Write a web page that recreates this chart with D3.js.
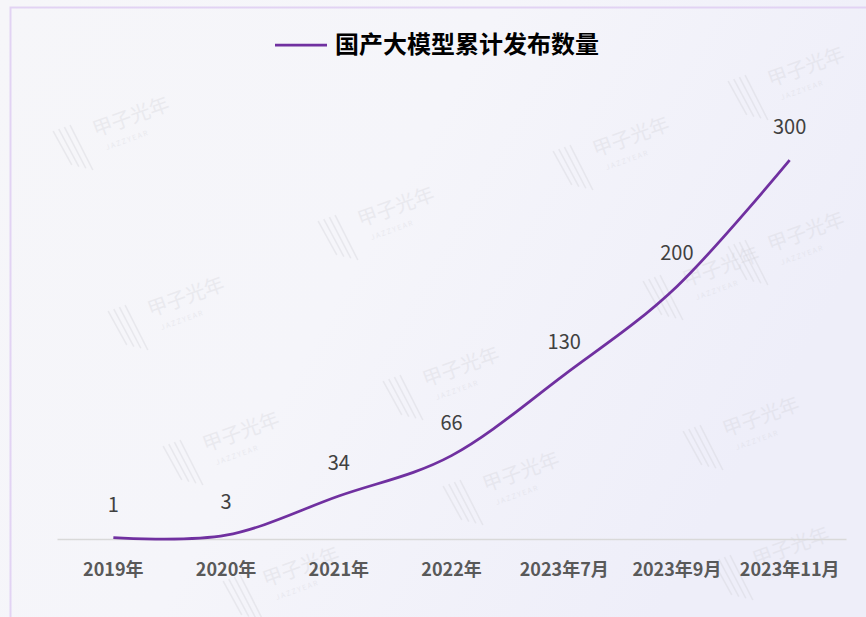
<!DOCTYPE html>
<html>
<head>
<meta charset="utf-8">
<script src="https://cdn.jsdelivr.net/npm/d3@7"></script>
<style>
body { margin: 0; padding: 0; overflow: hidden; }
text { font-family: "Noto Sans CJK SC", "Noto Sans", sans-serif; }
</style>
</head>
<body>
<div id="chart"></div>
<script>
var w = 866;
var h = 617;

// data
var categories = ["2019年", "2020年", "2021年", "2022年", "2023年7月", "2023年9月", "2023年11月"];
var values = [1, 3, 34, 66, 130, 200, 300];
var seriesName = "国产大模型累计发布数量";

var svg = d3.select("#chart").append("svg").attr("width", w).attr("height", h);

// background
var defs = svg.append("defs");
var grad = defs.append("linearGradient").attr("id", "bg").attr("x1", "0").attr("y1", "0").attr("x2", "1").attr("y2", "0.4");
grad.append("stop").attr("offset", "0%").attr("stop-color", "#f6f6f9");
grad.append("stop").attr("offset", "50%").attr("stop-color", "#f5f5fa");
grad.append("stop").attr("offset", "100%").attr("stop-color", "#eeeef9");
svg.append("rect").attr("width", w).attr("height", h).attr("fill", "url(#bg)");

// frame
svg.append("rect").attr("x", 10.5).attr("y", 7.5).attr("width", w).attr("height", h)
    .attr("fill", "none").attr("stroke", "#e2d3f3").attr("stroke-width", 2);

// faint watermarks (decoration)
var marks = [[60, 150], [325, 240], [560, 170], [735, 100], [115, 330], [390, 400], [650, 300],
             [170, 465], [450, 505], [690, 450], [735, 265], [230, 600], [720, 580]];
var wm = svg.selectAll(".wm").data(marks).enter().append("g")
    .attr("class", "wm")
    .attr("transform", function(d) { return "translate(" + d[0] + "," + d[1] + ") rotate(-20)"; })
    .attr("opacity", 0.35);
[0, 6, 12, 18].forEach(function(o, i) {
    wm.append("line").attr("x1", o).attr("y1", -20).attr("x2", o + 6).attr("y2", 18 + i * 4)
      .attr("stroke", "#d0d0d6").attr("stroke-width", 1.5);
});
wm.append("text").attr("x", 38).attr("y", 0).text("甲子光年")
    .style("font-size", "20px").style("fill", "#d4d4da");
wm.append("text").attr("x", 44).attr("y", 16).text("J A Z Z Y E A R")
    .style("font-size", "7px").style("fill", "#d4d4da");

// scales
var xScale = d3.scaleBand().domain(categories).range([57, 846]);
var yScale = d3.scaleLinear().domain([0, 350]).range([539, 97]);

// x axis
var xAxis = d3.axisBottom().scale(xScale).tickSize(0).tickPadding(24);
var gx = svg.append("g").attr("class", "axis").attr("transform", "translate(0,539)").call(xAxis);
gx.select(".domain").attr("stroke", "#d9d9d9").attr("stroke-width", 1.5);
gx.selectAll("text").style("font-size", "18px").style("font-weight", "bold")
    .style("fill", "#595959").style("font-family", "'Noto Sans CJK SC', sans-serif");

// line
var line = d3.line()
    .x(function(d, i) { return xScale(categories[i]) + xScale.bandwidth() / 2; })
    .y(function(d) { return yScale(d); })
    .curve(d3.curveCardinal.tension(0));

svg.append("path").datum(values).attr("d", line)
    .attr("fill", "none").attr("stroke", "#7030a0").attr("stroke-width", 2.75);

// data labels
svg.selectAll(".textLabel").data(values).enter().append("text")
    .attr("class", "textLabel")
    .attr("x", function(d, i) { return xScale(categories[i]) + xScale.bandwidth() / 2; })
    .attr("y", function(d) { return yScale(d) - 26; })
    .attr("text-anchor", "middle")
    .text(function(d) { return d; })
    .style("font-size", "20px").style("fill", "#404040");

// legend / title
svg.append("line").attr("x1", 275).attr("x2", 327).attr("y1", 45).attr("y2", 45)
    .attr("stroke", "#7030a0").attr("stroke-width", 2.75);
svg.append("text").attr("x", 335).attr("y", 45).attr("dy", "0.35em")
    .text(seriesName).style("font-size", "24px").style("font-weight", "bold").style("fill", "#000");
</script>
</body>
</html>
